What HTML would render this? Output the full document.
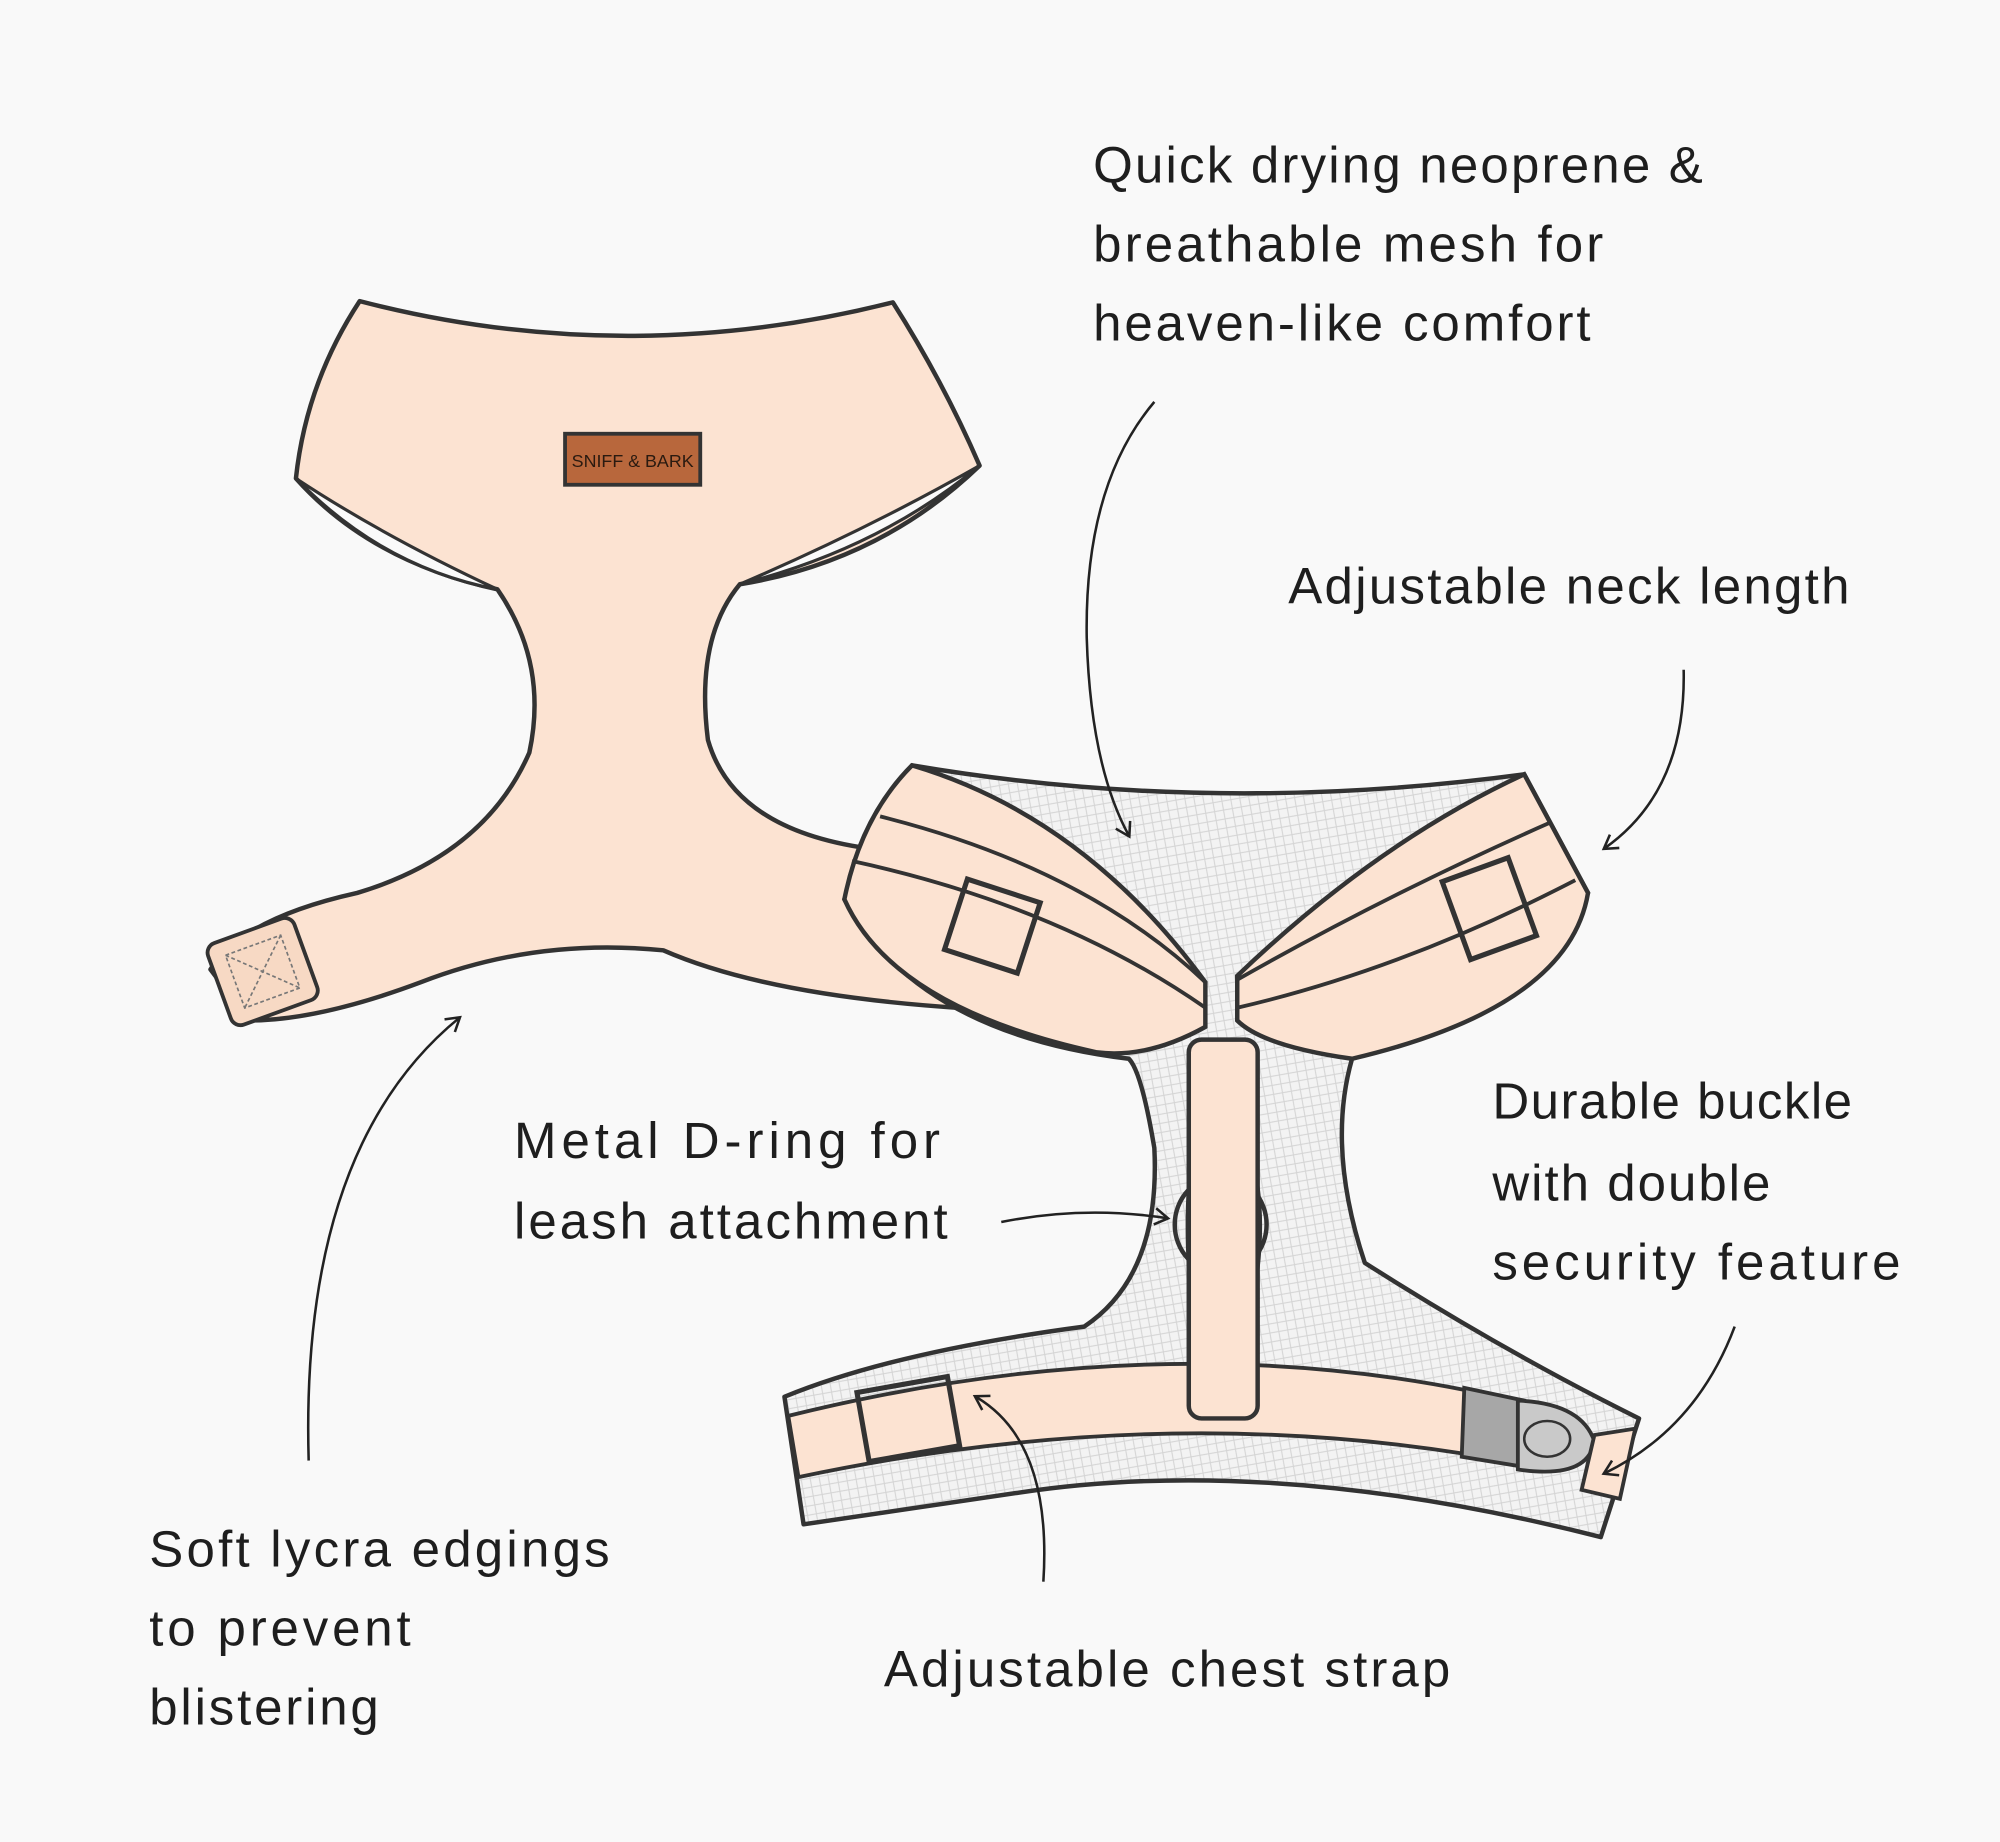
<!DOCTYPE html>
<html><head><meta charset="utf-8"><style>
html,body{margin:0;padding:0;background:#f9f9f9;}
svg{display:block;}
text{font-family:"Liberation Sans",sans-serif;fill:#1e1e1e;font-size:40px;}
</style></head><body>
<svg width="2000" height="1842" viewBox="0 0 1568 1444" xmlns="http://www.w3.org/2000/svg">
<defs>
<pattern id="mesh" width="10" height="10" patternUnits="userSpaceOnUse" patternTransform="rotate(35)">
<rect width="10" height="10" fill="#f3f3f3"/>
<path d="M0,0 L10,10 M10,0 L0,10" stroke="#d4d4d4" stroke-width="0.8"/>
</pattern>
<marker id="ah" viewBox="0 0 20 20" refX="14" refY="10" markerWidth="16" markerHeight="16" orient="auto" markerUnits="userSpaceOnUse">
<path d="M2,2 L15,10 L2,18" fill="none" stroke="#222" stroke-width="2.5"/>
</marker>
</defs>
<rect width="1568" height="1444" fill="#f9f9f9"/>

<path d="M282,236 Q490,290 700,237 Q740,300 768,365 Q690,440 580,458 Q545,500 555,580 Q575,650 680,665 L750,790 Q600,780 520,745 Q420,735 330,770 Q250,800 195,800 L165,760 Q190,720 280,700 Q380,670 415,590 Q430,520 390,462 Q290,440 232,375 Q240,300 282,236 Z" fill="#fce3d2" stroke="#333" stroke-width="3.5" stroke-linejoin="round"/>
<path d="M232,375 Q300,445 390,462 Q300,420 232,375 Z" fill="#fafafa" stroke="#333" stroke-width="2.5"/>
<path d="M768,365 Q690,430 580,458 Q680,415 768,365 Z" fill="#fafafa" stroke="#333" stroke-width="2.5"/>
<rect x="443" y="340" width="106" height="40" fill="#b8673c" stroke="#333" stroke-width="3"/>
<text x="496" y="366" text-anchor="middle" style="fill:#2a1a10;font-size:14px">SNIFF &amp; BARK</text>
<g transform="rotate(-20 205 762)">
<rect x="170" y="728" width="72" height="68" rx="8" fill="#f7d9c4" stroke="#333" stroke-width="3"/>
<rect x="183" y="740" width="46" height="44" fill="none" stroke="#777" stroke-width="1.3" stroke-dasharray="3 2"/>
<path d="M183,740 L229,784 M229,740 L183,784" stroke="#777" stroke-width="1.3" stroke-dasharray="3 2"/>
</g>

<path d="M715,600 Q950,640 1195,607 L1245,700 Q1200,790 1060,830 Q1040,900 1070,990 Q1180,1060 1285,1112 L1255,1205 Q1000,1140 800,1170 Q700,1185 630,1195 L615,1095 Q700,1060 850,1040 Q910,1000 905,900 Q895,840 885,830 Q720,810 662,705 Z" fill="url(#mesh)" stroke="#333" stroke-width="3.5" stroke-linejoin="round"/>
<path d="M715,600 Q850,640 945,770 L945,805 Q900,830 860,825 Q700,790 662,705 Q675,640 715,600 Z" fill="#fce3d2" stroke="#333" stroke-width="3.5"/>
<path d="M690,640 Q850,680 945,770" fill="none" stroke="#333" stroke-width="3"/>
<path d="M668,675 Q830,710 945,790" fill="none" stroke="#333" stroke-width="3"/>
<rect x="748" y="697" width="60" height="58" fill="none" stroke="#333" stroke-width="4" transform="rotate(18 778 726)"/>
<path d="M1195,607 L1245,700 Q1230,790 1060,830 Q990,820 970,800 L970,765 Q1080,660 1195,607 Z" fill="#fce3d2" stroke="#333" stroke-width="3.5"/>
<path d="M1215,645 Q1090,700 970,768" fill="none" stroke="#333" stroke-width="3"/>
<path d="M1235,690 Q1100,760 970,790" fill="none" stroke="#333" stroke-width="3"/>
<rect x="1140" y="680" width="55" height="65" fill="none" stroke="#333" stroke-width="4" transform="rotate(-20 1167 712)"/>
<path d="M618,1110 Q900,1040 1150,1090 L1150,1140 Q900,1100 626,1158 Z" fill="#fce3d2" stroke="#333" stroke-width="3"/>
<rect x="676" y="1085" width="72" height="55" fill="none" stroke="#333" stroke-width="4" transform="rotate(-10 712 1112)"/>
<path d="M1148,1088 L1195,1098 L1195,1150 L1146,1142 Z" fill="#a7a7a7" stroke="#333" stroke-width="3"/>
<path d="M1190,1098 Q1240,1100 1250,1130 Q1245,1160 1190,1152 Z" fill="#c9c9c9" stroke="#333" stroke-width="3"/>
<ellipse cx="1213" cy="1128" rx="18" ry="14" fill="none" stroke="#333" stroke-width="2"/>
<path d="M1250,1125 L1282,1120 L1270,1175 L1240,1168 Z" fill="#fce3d2" stroke="#333" stroke-width="3"/>
<ellipse cx="957" cy="960" rx="36" ry="38" fill="none" stroke="#333" stroke-width="3.5"/>
<rect x="932" y="815" width="54" height="297" rx="10" fill="#fce3d2" stroke="#333" stroke-width="3.5"/>
<path d="M932,930 Q930,960 932,995 M986,930 Q990,960 986,995" fill="none" stroke="#333" stroke-width="3"/>

<g fill="none" stroke="#222" stroke-width="2" marker-end="url(#ah)">
<path d="M905,315 Q850,380 852,500 Q855,600 885,655"/>
<path d="M1320,525 Q1322,620 1258,665"/>
<path d="M242,1145 Q235,900 360,798"/>
<path d="M785,958 Q850,945 915,955"/>
<path d="M818,1240 Q825,1130 765,1095"/>
<path d="M1360,1040 Q1330,1120 1258,1155"/>
</g>

<text x="857" y="143" textLength="478">Quick drying neoprene &amp;</text>
<text x="857" y="205" textLength="400">breathable mesh for</text>
<text x="857" y="267" textLength="390">heaven-like comfort</text>
<text x="1010" y="473" textLength="440">Adjustable neck length</text>
<text x="403" y="908" textLength="334">Metal D-ring for</text>
<text x="403" y="971" textLength="340">leash attachment</text>
<text x="1170" y="877" textLength="282">Durable buckle</text>
<text x="1170" y="941" textLength="218">with double</text>
<text x="1170" y="1003" textLength="320">security feature</text>
<text x="117" y="1228" textLength="361">Soft lycra edgings</text>
<text x="117" y="1290" textLength="205">to prevent</text>
<text x="117" y="1352" textLength="180">blistering</text>
<text x="693" y="1322" textLength="444">Adjustable chest strap</text>
</svg>
</body></html>
